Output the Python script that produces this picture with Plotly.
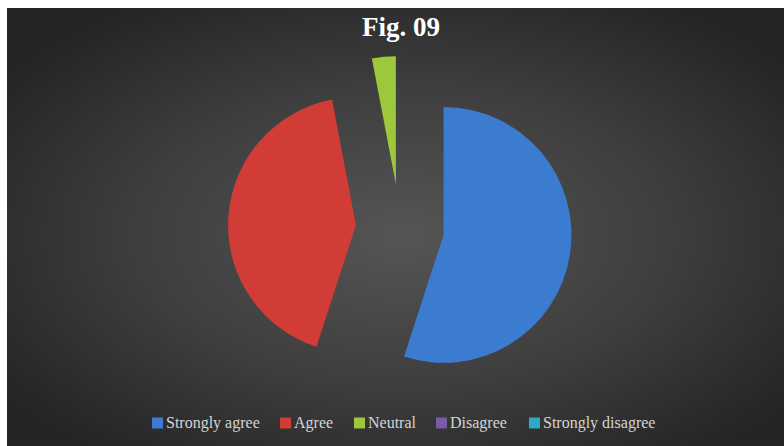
import base64
import plotly.graph_objects as go

# Survey responses (percent of respondents)
categories = ["Strongly agree", "Agree", "Neutral", "Disagree", "Strongly disagree"]
shares = [55, 42, 3, 0, 0]
colors = ["#3b7cd0", "#d13c36", "#9dc83c", "#7b5ba8", "#2ea8c6"]

W, H = 784, 446
L, R, T, B = 16, 0, 56, 46
pw, ph = W - L - R, H - T - B

# left edge (px) of each legend key along the bottom row
legend_x = [152, 280, 354, 436, 529]
legend_y = 423


def px_x(v):
    return (v - L) / pw


def px_y(v):
    return (T + ph - v) / ph


# dark radial-gradient backdrop with a thin white edge on top/left
svg = f"""<svg xmlns='http://www.w3.org/2000/svg' width='{W}' height='{H}' viewBox='0 0 {W} {H}' preserveAspectRatio='none'>
<defs><radialGradient id='g' cx='51%' cy='52%' r='62%'>
<stop offset='0' stop-color='#555555'/><stop offset='0.55' stop-color='#3e3e3e'/><stop offset='1' stop-color='#252525'/>
</radialGradient></defs>
<rect width='{W}' height='{H}' fill='#ffffff'/>
<rect x='7' y='8' width='{W-7}' height='{H-8}' fill='url(#g)'/>
</svg>"""
bg_uri = "data:image/svg+xml;base64," + base64.b64encode(svg.encode()).decode()

fig = go.Figure(
    go.Pie(
        labels=categories,
        values=shares,
        sort=False,
        direction="clockwise",
        rotation=0,
        pull=[0.345] * len(shares),
        marker=dict(colors=colors, line=dict(width=0)),
        textinfo="none",
        hoverinfo="label+percent",
        showlegend=False,
    )
)

# compact legend: colour key followed directly by its label
shapes = []
annotations = []
for name, col, x0 in zip(categories, colors, legend_x):
    shapes.append(dict(
        type="rect", xref="paper", yref="paper",
        x0=px_x(x0), x1=px_x(x0 + 11),
        y0=px_y(legend_y + 5.5), y1=px_y(legend_y - 5.5),
        fillcolor=col, line=dict(width=0),
    ))
    annotations.append(dict(
        text=name, xref="paper", yref="paper",
        x=px_x(x0 + 12), y=px_y(legend_y),
        xanchor="left", yanchor="middle", showarrow=False,
        font=dict(family="Liberation Serif", size=16, color="#d4d4d4"),
    ))

fig.update_layout(
    width=W,
    height=H,
    margin=dict(l=L, r=R, t=T, b=B),
    paper_bgcolor="#ffffff",
    plot_bgcolor="rgba(0,0,0,0)",
    images=[dict(
        source=bg_uri, xref="paper", yref="paper",
        x=-L / pw, y=1 + T / ph, sizex=W / pw, sizey=H / ph,
        xanchor="left", yanchor="top", sizing="stretch", layer="below",
    )],
    title=dict(
        text="<b>Fig. 09</b>",
        x=px_x(401), xref="paper", xanchor="center",
        y=1 - 27 / H, yanchor="middle",
        font=dict(family="Liberation Serif", size=27, color="#ffffff"),
    ),
    shapes=shapes,
    annotations=annotations,
)

fig.write_html("out.html")
